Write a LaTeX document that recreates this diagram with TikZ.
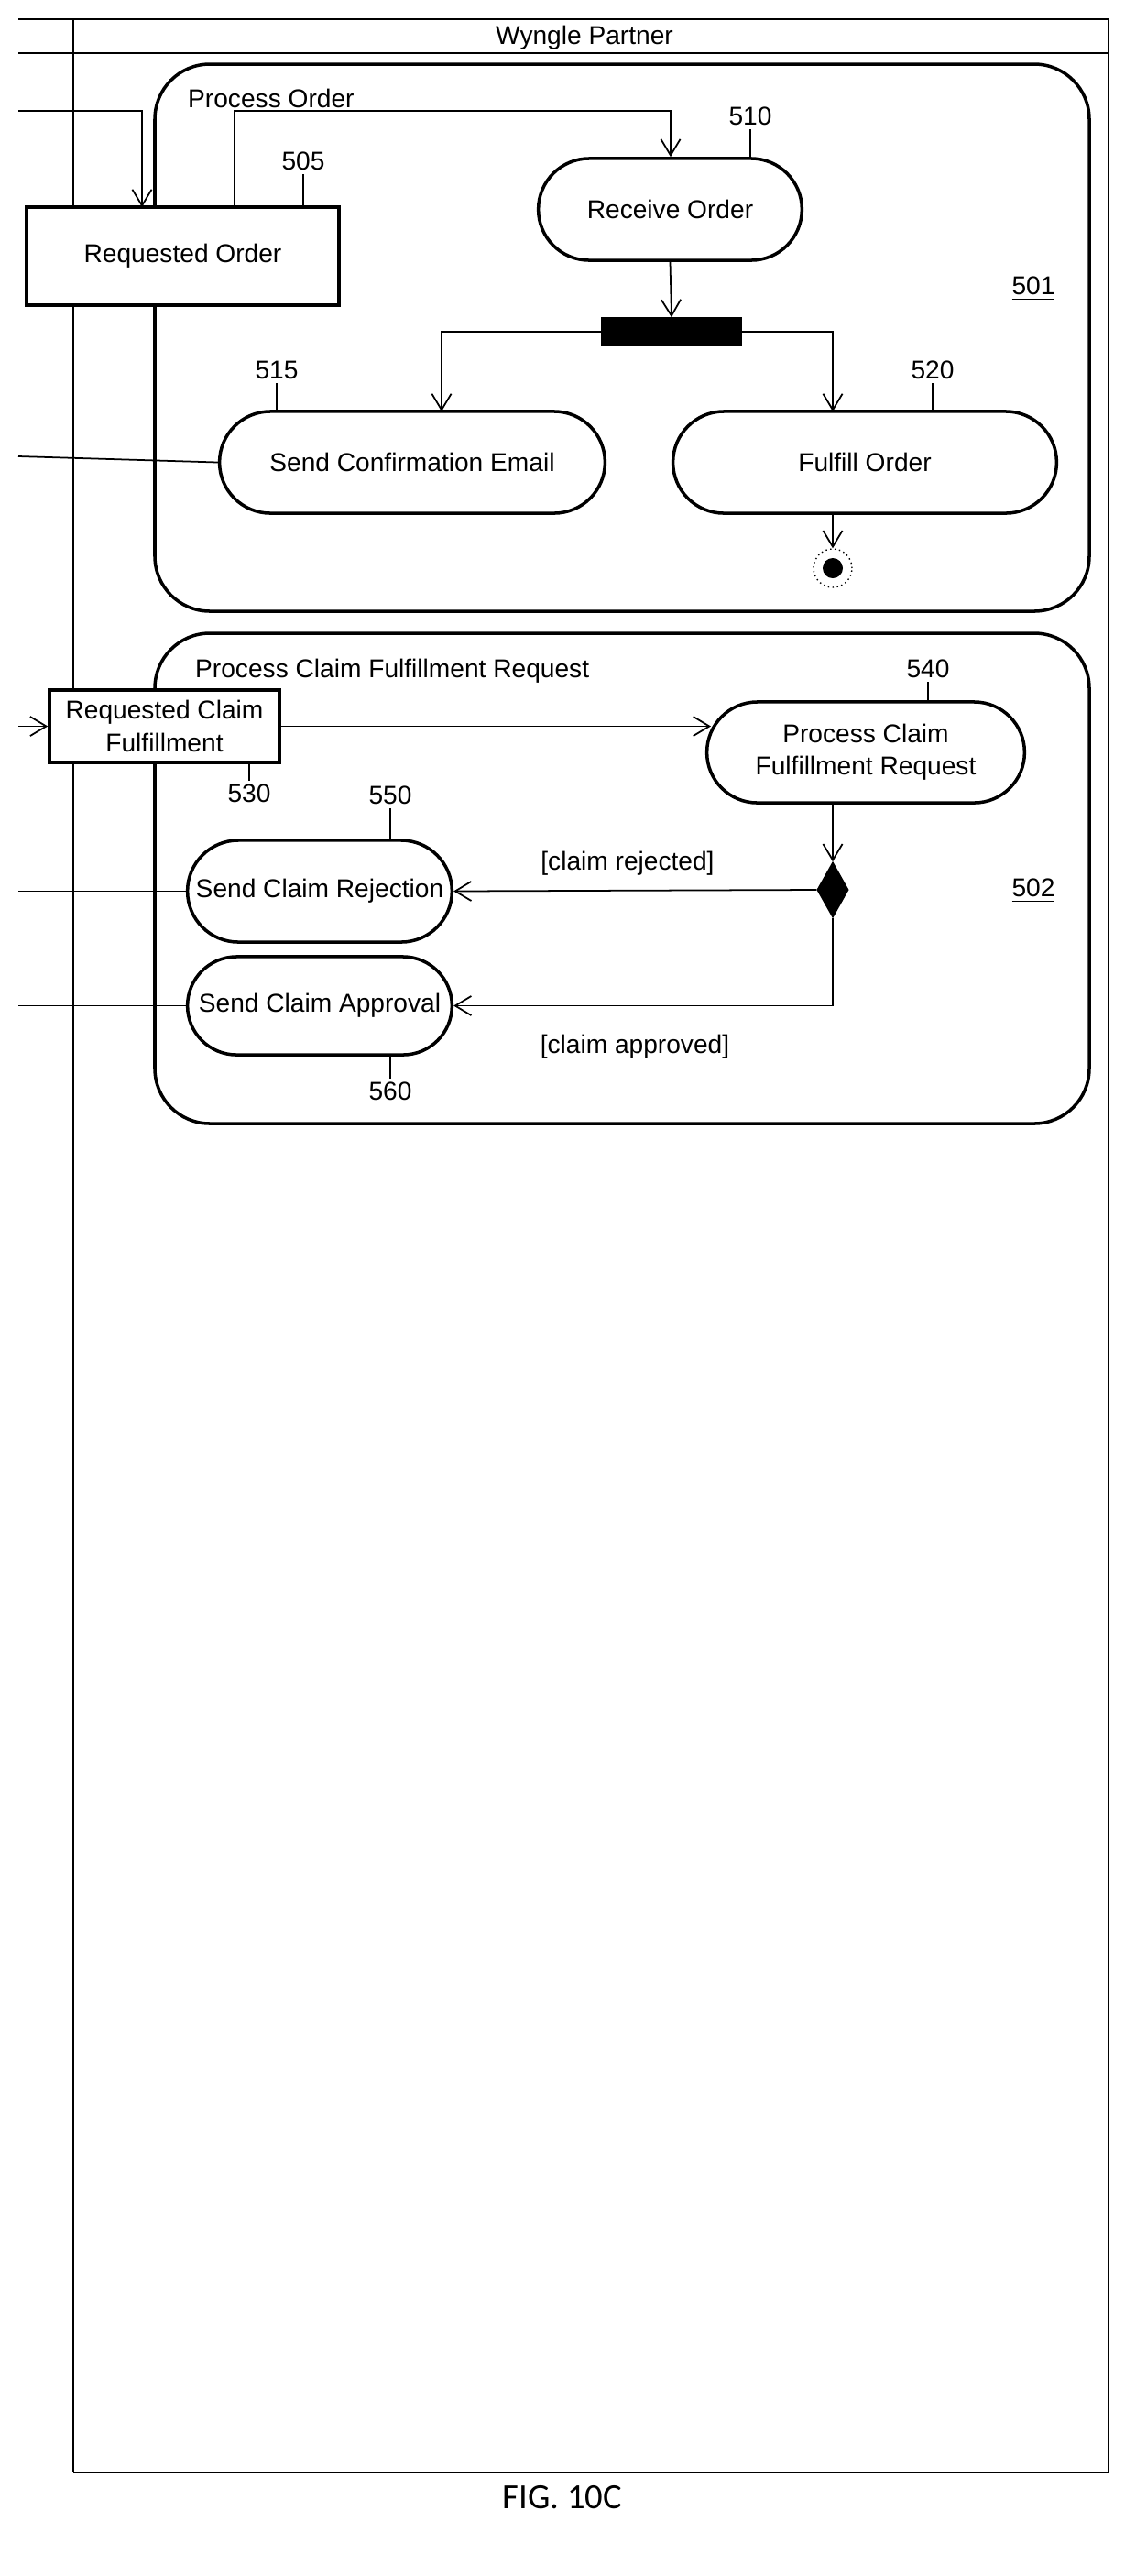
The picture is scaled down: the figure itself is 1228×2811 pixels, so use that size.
\documentclass[tikz,border=0pt]{standalone}
\usepackage{fontspec}
\setmainfont{Liberation Sans}
\newfontfamily\figfont{Carlito}
\usetikzlibrary{shapes.misc, shapes.geometric, arrows.meta, positioning}

\tikzset{
  act/.style={draw, rounded rectangle, line width=1pt, align=center, font=\fontsize{8}{10}\selectfont},
  obj/.style={draw, rectangle, fill=white, line width=1pt, align=center, font=\fontsize{8}{10}\selectfont},
  grp/.style={draw, line width=1pt, rounded corners=0.6cm},
  flow/.style={line width=0.5pt, -{Straight Barb[length=5pt,width=6pt]}},
  lead/.style={line width=0.5pt},
  txt/.style={font=\fontsize{8}{10}\selectfont, inner sep=1pt},
}

\begin{document}
\begin{tikzpicture}[x=0.01cm, y=-0.01cm]
    \useasboundingbox (0,0) rectangle (1228,2811);

    % Swimlane frame
    \draw[line width=0.6pt] (20,21) -- (1210,21) -- (1210,2698) -- (80,2698);
    \draw[line width=0.6pt] (20,58) -- (1210,58);
    \draw[line width=0.6pt] (80,21) -- (80,2698);
    \node[txt] (lane) at (638,41) {Wyngle Partner};

    % Group 501
    \draw[grp] (169,70) rectangle (1189,667);
    \node[txt, anchor=west] (g501) at (201,107) {Process Order};
    \node[txt] (n501) at (1128,315) {\underline{501}};

    \node[obj, minimum width=3.41cm, minimum height=1.07cm] (ro) at (199.5,279.5) {Requested Order};
    \node[act, minimum width=3.11cm, minimum height=1.11cm] (rec) at (731.5,228.5) {Receive Order};
    \node[draw, fill=black, minimum width=1.52cm, minimum height=0.3cm, inner sep=0pt] (fork) at (733,362) {};
    \node[act, minimum width=4.44cm, minimum height=1.11cm] (conf) at (450,504.5) {Send Confirmation Email};
    \node[act, minimum width=4.42cm, minimum height=1.11cm] (ful) at (944,504.5) {Fulfill Order};
    \node[circle, draw, densely dotted, minimum size=0.42cm, inner sep=0pt] (fin) at (909,620) {};
    \node[circle, fill=black, minimum size=0.22cm, inner sep=0pt] at (fin) {};

    % Labels 501
    \node[txt] (n505) at (331,176) {505};
    \node[txt] (n510) at (819,127) {510};
    \node[txt] (n515) at (302,404) {515};
    \node[txt] (n520) at (1018,404) {520};
    \draw[lead] (n505.south) -- (n505.south |- ro.north);
    \draw[lead] (n510.south) -- (n510.south |- rec.north);
    \draw[lead] (n515.south) -- (n515.south |- conf.north);
    \draw[lead] (n520.south) -- (n520.south |- ful.north);

    % Flows 501
    \coordinate (in1) at (20,121);
    \coordinate (in2) at (20,498);
    \draw[flow] (in1) -| (155,226);
    \draw[flow] (256,226) |- (732,121) -- (rec.north -| 732,0);
    \draw[flow] (rec.south) -- (fork.north);
    \draw[flow] (fork.west) -| (482,449);
    \draw[flow] (fork.east) -| (909,449);
    \draw[flow] (909,560) -- (fin.north);
    \draw[lead] (in2) -- (conf.west);

    % Group 502
    \draw[grp] (169,691) rectangle (1189,1226);
    \node[txt, anchor=west] (g502) at (209,732) {Process Claim Fulfillment Request};
    \node[txt] (n502) at (1128,972) {\underline{502}};

    \node[obj, minimum width=2.51cm, minimum height=0.79cm, inner sep=1pt] (rcf) at (179.5,792.5) {Requested Claim\\Fulfillment};
    \node[act, minimum width=3.7cm, minimum height=1.1cm] (pcf) at (945,821) {Process Claim\\Fulfillment Request};
    \node[diamond, fill=black, draw, minimum width=0.34cm, minimum height=0.6cm, inner sep=0pt] (dec) at (909,971) {};
    \node[act, minimum width=3.12cm, minimum height=1.11cm] (rej) at (349,972.5) {Send Claim Rejection};
    \node[act, minimum width=3.12cm, minimum height=1.07cm] (app) at (349,1097.5) {Send Claim Approval};

    % Labels 502
    \node[txt] (n530) at (272,866) {530};
    \node[txt] (n540) at (1013,730) {540};
    \node[txt] (n550) at (426,868) {550};
    \node[txt] (n560) at (426,1191) {560};
    \draw[lead] (n530.north) -- (n530.north |- rcf.south);
    \draw[lead] (n540.south) -- (n540.south |- pcf.north);
    \draw[lead] (n550.south) -- (n550.south |- rej.north);
    \draw[lead] (n560.north) -- (n560.north |- app.south);
    \node[txt] (grej) at (685,942) {[claim rejected]};
    \node[txt] (gapp) at (693,1142) {[claim approved]};

    % Flows 502
    \coordinate (in3) at (20,792.5);
    \coordinate (in4) at (20,972.5);
    \coordinate (in5) at (20,1097.5);
    \draw[flow] (in3) -- (rcf.west);
    \draw[flow] (rcf.east) -- (776,792.5);
    \draw[flow] (dec |- pcf.south) -- (dec.north);
    \draw[flow] (dec.west) -- (rej.east);
    \draw[flow] (dec.south) |- (app.east);
    \draw[lead] (in4) -- (rej.west);
    \draw[lead] (in5) -- (app.west);

    % Caption
    \node[font=\figfont\fontsize{11}{13}\selectfont] (cap) at (614,2725) {FIG. 10C};
\end{tikzpicture}
\end{document}
